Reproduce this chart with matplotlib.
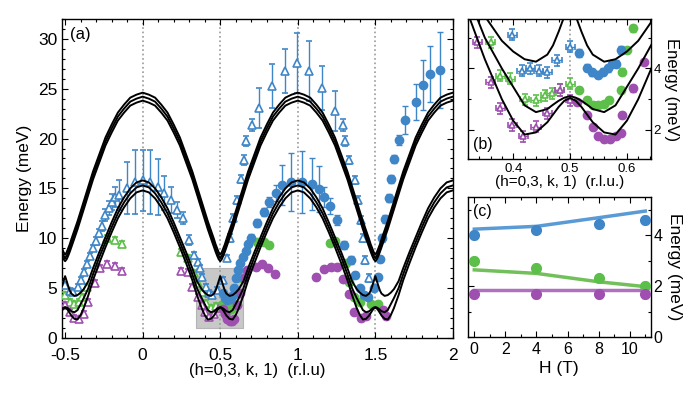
import numpy as np
import matplotlib
matplotlib.use("Agg")
import matplotlib.pyplot as plt
from matplotlib.ticker import MultipleLocator, FormatStrFormatter
from matplotlib.patches import Rectangle

plt.rcParams['font.family'] = ['Liberation Sans', 'DejaVu Sans']

BLUE = '#3f86c8'
GREEN = '#5cbf4a'
PURPLE = '#9e4fb0'

# ---- model curves, half period (k = 0 .. 0.5) ----
k_half = [0, 0.04, 0.08, 0.12, 0.16, 0.20, 0.24, 0.28, 0.32, 0.35, 0.38,
          0.40, 0.42, 0.44, 0.46, 0.47, 0.48, 0.49, 0.50]
u_top = [24.6, 24.4, 24.1, 23.4, 22.6, 21.4, 20.1, 18.4, 16.7, 15.2, 13.7,
         12.7, 11.7, 10.8, 9.9, 9.4, 9.0, 8.6, 8.35]
u_mid = [24.2, 24.0, 23.7, 23.0, 22.2, 21.0, 19.7, 18.0, 16.3, 14.8, 13.3,
         12.3, 11.3, 10.4, 9.5, 9.0, 8.6, 8.25, 8.0]
u_bot = [23.8, 23.6, 23.3, 22.6, 21.8, 20.6, 19.3, 17.6, 15.9, 14.4, 12.9,
         11.9, 10.9, 10.0, 9.1, 8.65, 8.25, 7.9, 7.7]
l_top = [15.8, 15.6, 15.0, 14.1, 13.0, 11.6, 10.1, 8.6, 7.0, 5.7, 4.9,
         4.55, 4.3, 4.22, 4.45, 4.75, 5.2, 5.7, 6.2]
l_mid = [15.3, 15.1, 14.5, 13.6, 12.5, 11.1, 9.6, 8.1, 6.4, 5.0, 4.0,
         3.4, 2.8, 2.58, 2.68, 2.82, 2.95, 3.05, 3.1]
l_bot = [14.8, 14.6, 14.0, 13.1, 12.0, 10.6, 9.1, 7.5, 5.8, 4.3, 3.0,
         2.3, 1.85, 1.92, 2.25, 2.5, 2.75, 2.95, 3.04]
curves = [u_top, u_mid, u_bot, l_top, l_mid, l_bot]
centers = [-1, 0, 1, 2]

# ---- panel (a) data ----
k_bt = [-0.50, -0.47, -0.45, -0.42, -0.40, -0.38, -0.36, -0.34, -0.32, -0.30,
        -0.28, -0.26, -0.24, -0.22, -0.20, -0.18, -0.15, -0.10, -0.05, 0.0,
        0.05, 0.10, 0.14, 0.18, 0.22, 0.26, 0.30, 0.33, 0.355, 0.37,
        0.385, 0.41, 0.43, 0.45, 0.48, 0.52, 0.545, 0.565, 0.585, 0.61,
        0.635, 0.655, 0.665, 0.705, 0.75, 0.835, 0.915, 0.995, 1.075, 1.155,
        1.24, 1.29, 1.305, 1.33, 1.37, 1.39, 1.405, 1.42, 1.435, 1.46]
e_bt = [5.3, 4.7, 4.6, 5.1, 5.8, 6.6, 7.4, 8.2, 9.0, 9.7,
        10.5, 11.2, 12.3, 13.0, 13.6, 14.1, 14.3, 15.0, 15.6, 15.8,
        15.6, 15.1, 14.5, 13.8, 12.8, 12.0, 9.8, 8.3, 7.6, 7.0,
        6.1, 5.1, 4.5, 4.3, 4.8, 5.8, 8.0, 10.0, 12.0, 13.8,
        15.9, 17.8, 19.8, 21.4, 23.1, 25.3, 26.8, 27.6, 26.8, 25.1,
        22.8, 21.4, 19.8, 17.8, 15.8, 13.8, 11.8, 10.0, 7.8, 6.0]
d_bt = [0.3, 0.3, 0.3, 0.3, 0.3, 0.3, 0.3, 0.3, 0.3, 0.4,
        0.4, 0.5, 0.6, 0.7, 0.8, 1.0, 1.5, 2.6, 3.2, 3.1,
        3.2, 2.8, 1.7, 1.3, 0.8, 0.6, 0.5, 0.3, 0.3, 0.3,
        0.3, 0.3, 0.3, 0.3, 0.3, 0.3, 0.3, 0.4, 0.4, 0.4,
        0.4, 0.5, 0.5, 0.6, 2.0, 2.2, 2.2, 3.0, 3.0, 2.2,
        2.0, 0.6, 0.5, 0.4, 0.4, 0.4, 0.4, 0.4, 0.4, 0.4]

k_bc = [0.515, 0.53, 0.545, 0.56, 0.575, 0.59, 0.60, 0.615, 0.63, 0.645,
        0.665, 0.68, 0.70, 0.735, 0.78, 0.815, 0.86, 0.90, 0.955, 1.03,
        1.09, 1.135, 1.17, 1.21, 1.25, 1.295, 1.34, 1.37, 1.40, 1.43,
        1.455, 1.49, 1.52, 1.53, 1.54, 1.56, 1.585, 1.60, 1.62, 1.65,
        1.69, 1.76, 1.81, 1.85, 1.915]
e_bc = [4.5, 4.0, 3.85, 3.9, 4.2, 5.0, 6.0, 6.8, 7.5, 8.1,
        8.7, 9.4, 10.0, 11.5, 12.6, 13.6, 14.5, 15.3, 15.6, 15.6,
        15.4, 14.9, 14.1, 13.2, 11.8, 9.3, 7.8, 6.3, 5.0, 4.3,
        4.1, 5.0, 6.1, 7.9, 10.0, 11.9, 14.0, 15.9, 17.9, 19.9,
        21.9, 23.7, 25.4, 26.5, 26.9]
d_bc = [0.3, 0.3, 0.3, 0.3, 0.3, 0.3, 0.3, 0.3, 0.3, 0.3,
        0.3, 0.3, 0.4, 0.4, 0.4, 0.5, 0.8, 2.0, 2.9, 3.1,
        2.6, 2.3, 1.0, 0.8, 0.5, 0.4, 0.4, 0.3, 0.3, 0.3,
        0.3, 0.3, 0.3, 0.3, 0.4, 0.4, 0.4, 0.4, 0.4, 0.5,
        1.4, 1.8, 2.5, 2.8, 3.8]

k_gt = [-0.50, -0.47, -0.44, -0.41, -0.39, -0.36, -0.23, -0.18, -0.135,
        0.25, 0.29, 0.33, 0.355, 0.38, 0.41, 0.44, 0.47]
e_gt = [4.3, 3.6, 3.4, 3.6, 4.1, 5.1, 10.0, 9.8, 9.4,
        8.6, 8.0, 6.5, 5.5, 4.6, 3.5, 3.0, 3.2]

k_gc = [0.515, 0.53, 0.55, 0.57, 0.59, 0.61, 0.64, 0.74, 0.78, 0.815,
        1.21, 1.24, 1.31, 1.33, 1.36, 1.40, 1.475, 1.52]
e_gc = [3.4, 3.0, 2.8, 2.9, 3.4, 4.5, 6.0, 9.6, 9.6, 9.3,
        9.5, 9.7, 7.5, 5.6, 4.1, 3.6, 3.4, 3.4]

k_pt = [-0.50, -0.47, -0.44, -0.41, -0.38, -0.35, -0.31, -0.275, -0.23, -0.18,
        -0.135, 0.25, 0.29, 0.32, 0.355, 0.38, 0.40, 0.43, 0.46, 0.49]
e_pt = [3.3, 2.6, 2.0, 1.9, 2.4, 3.6, 5.5, 7.0, 7.4, 7.2,
        6.7, 6.7, 6.6, 5.1, 4.1, 3.3, 2.6, 2.1, 2.4, 3.0]

k_pc = [0.515, 0.53, 0.545, 0.56, 0.575, 0.59, 0.61, 0.63, 0.655, 0.675,
        0.73, 0.77, 0.81, 0.85, 1.12, 1.17, 1.215, 1.255, 1.29, 1.33,
        1.365, 1.41, 1.44, 1.55, 1.57]
e_pc = [2.9, 2.4, 1.9, 1.7, 1.7, 1.9, 3.3, 4.5, 6.0, 6.8,
        7.1, 7.4, 7.0, 6.4, 6.1, 6.9, 7.1, 7.1, 5.9, 4.4,
        2.6, 2.0, 2.2, 2.8, 2.2]

# ---- panel (b) data ----
kb_bt = [0.398, 0.415, 0.43, 0.445, 0.46, 0.477, 0.50]
eb_bt = [5.1, 3.93, 4.0, 3.93, 3.87, 4.26, 4.7]
kb_bc = [0.516, 0.53, 0.539, 0.549, 0.558, 0.567, 0.574, 0.58, 0.59]
eb_bc = [4.5, 4.03, 3.87, 3.8, 3.9, 4.0, 4.16, 4.16, 4.6]
kb_gt = [0.36, 0.377, 0.395, 0.42, 0.44, 0.456, 0.468, 0.482, 0.50]
eb_gt = [4.85, 3.77, 3.67, 3.0, 2.97, 3.13, 3.2, 3.3, 3.5]
kb_gc = [0.516, 0.53, 0.54, 0.55, 0.56, 0.568, 0.59, 0.592, 0.60, 0.61]
eb_gc = [3.3, 2.97, 2.8, 2.8, 2.85, 2.97, 3.3, 3.9, 4.6, 5.3]
kb_pt = [0.337, 0.36, 0.377, 0.398, 0.418, 0.44, 0.46, 0.482, 0.50]
eb_pt = [4.85, 3.55, 2.7, 2.16, 1.8, 2.1, 2.55, 3.3, 2.97]
kb_pc = [0.512, 0.53, 0.54, 0.55, 0.56, 0.57, 0.58, 0.59, 0.592, 0.61, 0.63]
eb_pc = [2.9, 2.5, 2.1, 1.8, 1.7, 1.7, 1.8, 1.9, 2.5, 3.35, 4.2]

# ---- panel (c) data ----
field = [0, 4, 8, 11]
c_blue = [4.0, 4.22, 4.45, 4.6]
c_green = [3.0, 2.7, 2.3, 2.0]
c_purple = [1.68, 1.68, 1.68, 1.68]
fit_blue = [4.24, 4.35, 4.69, 4.95]
fit_green = [2.64, 2.5, 2.17, 1.98]
fit_purple = [1.85, 1.85, 1.85, 1.85]


def full_curve(vals):
    kh = np.array(k_half)
    vh = np.array(vals)
    ks, es = [], []
    for c in centers:
        ks.append(c - kh[::-1])
        es.append(vh[::-1])
        ks.append(c + kh[1:])
        es.append(vh[1:])
    return np.concatenate(ks), np.concatenate(es)


def style_ticks(ax, size):
    ax.tick_params(which='both', direction='in', top=True, right=True,
                   labelsize=size, width=0.8)
    ax.tick_params(which='major', length=4)
    ax.tick_params(which='minor', length=2)
    for s in ax.spines.values():
        s.set_linewidth(1.0)


def pts(ax, k, e, col, tri, yerr=None, xerr=None, ms=6):
    if tri:
        ax.errorbar(k, e, yerr=yerr, xerr=xerr, fmt='^', ms=ms, mfc='white',
                    mec=col, mew=1.2, ecolor=col, elinewidth=1, capsize=2,
                    capthick=1, zorder=3)
    else:
        ax.errorbar(k, e, yerr=yerr, xerr=xerr, fmt='o', ms=ms, mfc=col,
                    mec=col, ecolor=col, elinewidth=1, capsize=2,
                    capthick=1, zorder=3)


fig = plt.figure(figsize=(6.93, 3.93), dpi=100)
ax_a = fig.add_axes([0.0895, 0.140, 0.564, 0.812])
ax_b = fig.add_axes([0.675, 0.595, 0.264, 0.356])
ax_c = fig.add_axes([0.675, 0.1425, 0.264, 0.356])

# panel (a)
for x0 in [0, 0.5, 1, 1.5]:
    ax_a.axvline(x0, color='#999999', ls=':', lw=1.2, zorder=1)
ax_a.add_patch(Rectangle((0.345, 1.0), 0.3, 6.0, facecolor='#c8c8c8',
                         edgecolor='#b5b5b5', lw=0.8, zorder=0.5))
pts(ax_a, k_gt, e_gt, GREEN, True, yerr=0.3)
pts(ax_a, k_pt, e_pt, PURPLE, True, yerr=0.3)
pts(ax_a, k_gc, e_gc, GREEN, False, yerr=0.3)
pts(ax_a, k_pc, e_pc, PURPLE, False, yerr=0.3)
pts(ax_a, k_bt, e_bt, BLUE, True, yerr=d_bt)
pts(ax_a, k_bc, e_bc, BLUE, False, yerr=d_bc)
for cv in curves:
    kk, ee = full_curve(cv)
    ax_a.plot(kk, ee, color='black', lw=1.4, zorder=4)
ax_a.set_xlim(-0.52, 2.0)
ax_a.set_ylim(0, 32)
ax_a.set_xticks([-0.5, 0, 0.5, 1, 1.5, 2])
ax_a.set_xticklabels(['-0.5', '0', '0.5', '1', '1.5', '2'])
ax_a.xaxis.set_minor_locator(MultipleLocator(0.1))
ax_a.yaxis.set_major_locator(MultipleLocator(5))
ax_a.yaxis.set_minor_locator(MultipleLocator(1))
style_ticks(ax_a, 12.5)
ax_a.tick_params(axis='x', pad=7)
ax_a.set_ylabel('Energy (meV)', fontsize=12.5, labelpad=4)
ax_a.set_xlabel('(h=0,3, k, 1)  (r.l.u)', fontsize=12, labelpad=0)
ax_a.text(0.02, 0.975, '(a)', transform=ax_a.transAxes, fontsize=12,
          va='top', ha='left')

# panel (b)
ax_b.axvline(0.5, color='#999999', ls=':', lw=1.2, zorder=1)
pts(ax_b, kb_gt, eb_gt, GREEN, True, yerr=0.18, xerr=0.008, ms=5)
pts(ax_b, kb_pt, eb_pt, PURPLE, True, yerr=0.18, xerr=0.008, ms=5)
pts(ax_b, kb_bt, eb_bt, BLUE, True, yerr=0.18, xerr=0.008, ms=5)
pts(ax_b, kb_gc, eb_gc, GREEN, False, yerr=0.1, ms=6)
pts(ax_b, kb_pc, eb_pc, PURPLE, False, yerr=0.1, ms=6)
pts(ax_b, kb_bc, eb_bc, BLUE, False, yerr=0.12, ms=6)
for cv in curves:
    kk, ee = full_curve(cv)
    ax_b.plot(kk, ee, color='black', lw=1.4, zorder=4)
ax_b.set_xlim(0.32, 0.642)
ax_b.set_ylim(1.05, 5.6)
ax_b.set_xticks([0.4, 0.5, 0.6])
ax_b.set_xticklabels(['0.4', '0.5', '0.6'])
ax_b.xaxis.set_minor_locator(MultipleLocator(0.02))
ax_b.yaxis.set_major_locator(MultipleLocator(2))
ax_b.yaxis.set_minor_locator(MultipleLocator(1))
ax_b.yaxis.set_major_formatter(FormatStrFormatter('%d'))
style_ticks(ax_b, 9.5)
ax_b.tick_params(axis='y', labelleft=False, labelright=True, pad=2)
ax_b.tick_params(axis='x', pad=3)
ax_b.yaxis.set_label_position('right')
ax_b.set_ylabel('Energy (meV)', fontsize=12, rotation=270, labelpad=13)
ax_b.set_xlabel('(h=0,3, k, 1)  (r.l.u.)', fontsize=11, labelpad=0)
ax_b.text(0.03, 0.05, '(b)', transform=ax_b.transAxes, fontsize=11.5,
          va='bottom', ha='left')

# panel (c)
ax_c.plot(field, fit_blue, color='#5a9bd6', lw=2.5, zorder=2)
ax_c.plot(field, fit_green, color='#72c05a', lw=2.5, zorder=2)
ax_c.plot(field, fit_purple, color='#b070c0', lw=2.5, zorder=2)
pts(ax_c, field, c_blue, BLUE, False, yerr=0.15, ms=7)
pts(ax_c, field, c_green, GREEN, False, yerr=0.15, ms=7)
pts(ax_c, field, c_purple, PURPLE, False, yerr=0.15, ms=7)
ax_c.set_xlim(-0.42, 11.35)
ax_c.set_ylim(0, 5.5)
ax_c.xaxis.set_major_locator(MultipleLocator(2))
ax_c.xaxis.set_minor_locator(MultipleLocator(1))
ax_c.yaxis.set_major_locator(MultipleLocator(2))
ax_c.yaxis.set_minor_locator(MultipleLocator(1))
ax_c.yaxis.set_major_formatter(FormatStrFormatter('%d'))
style_ticks(ax_c, 11.5)
ax_c.tick_params(axis='y', labelleft=False, labelright=True, pad=2)
ax_c.yaxis.set_label_position('right')
ax_c.set_ylabel('Energy (meV)', fontsize=12.5, rotation=270, labelpad=14)
ax_c.set_xlabel('H (T)', fontsize=12.5, labelpad=3)
ax_c.text(0.03, 0.95, '(c)', transform=ax_c.transAxes, fontsize=11.5,
          va='top', ha='left')

fig.savefig('out.png', dpi=100)
